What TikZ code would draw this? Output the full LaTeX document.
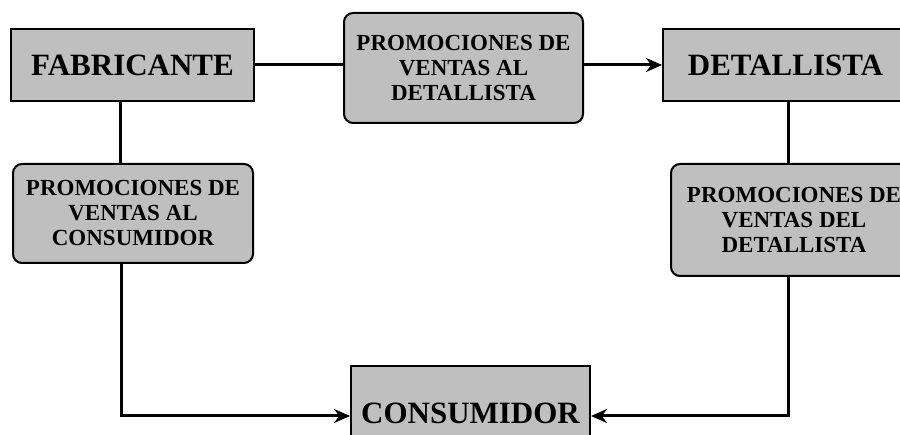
\documentclass[tikz,border=0pt]{standalone}
\usepackage{fontspec}
\setmainfont{Liberation Serif}
\usetikzlibrary{arrows.meta}
\tikzset{
  box/.style={draw=black, line width=2pt, fill=black!25, inner sep=0pt, anchor=north west,
    align=center, font=\bfseries\fontsize{31}{31}\selectfont},
  pbox/.style={box, rounded corners=9pt, font=\bfseries\fontsize{23}{25}\selectfont},
  conn/.style={line width=3pt},
  arr/.style={conn, -{Stealth[length=16pt,width=14pt]}}
}
\begin{document}
\begin{tikzpicture}[x=1pt,y=-1pt]
\path[use as bounding box, clip] (0,0) rectangle (900,435);
\fill[white] (0,0) rectangle (900,435);
\node[box, minimum width=243pt, minimum height=72pt] (fab) at (10,28) {FABRICANTE};
\node[pbox, minimum width=239pt, minimum height=110pt] (mid) at (343,12) {PROMOCIONES DE\\VENTAS AL\\DETALLISTA};
\node[box, minimum width=245pt, minimum height=72pt] (det) at (662,28) {DETALLISTA};
\node[pbox, minimum width=240pt, minimum height=99pt] (lc) at (12,163) {PROMOCIONES DE\\VENTAS AL\\CONSUMIDOR};
\node[pbox, minimum width=246pt, minimum height=112pt] (rc) at (670,163) {PROMOCIONES DE\\VENTAS DEL\\DETALLISTA};
\node[box, minimum width=239pt, minimum height=94pt] (cons) at (350,365) {CONSUMIDOR};
\coordinate (fl) at ([xshift=-12pt]fab.south);
\coordinate (lcs) at ([xshift=-12pt]lc.south);
\coordinate (dr) at ([xshift=3pt]det.south);
\coordinate (rcs) at ([xshift=-6pt]rc.south);
\draw[conn] (fab.east) -- (fab.east -| mid.west);
\draw[arr] (mid.east |- det.west) -- (det.west);
\draw[conn] (fl) -- (fl |- lc.north);
\draw[arr] (lcs) |- ([yshift=-3pt]cons.west);
\draw[conn] (dr) -- (dr |- rc.north);
\draw[arr] (rcs) |- ([yshift=-3pt]cons.east);
\end{tikzpicture}
\end{document}
